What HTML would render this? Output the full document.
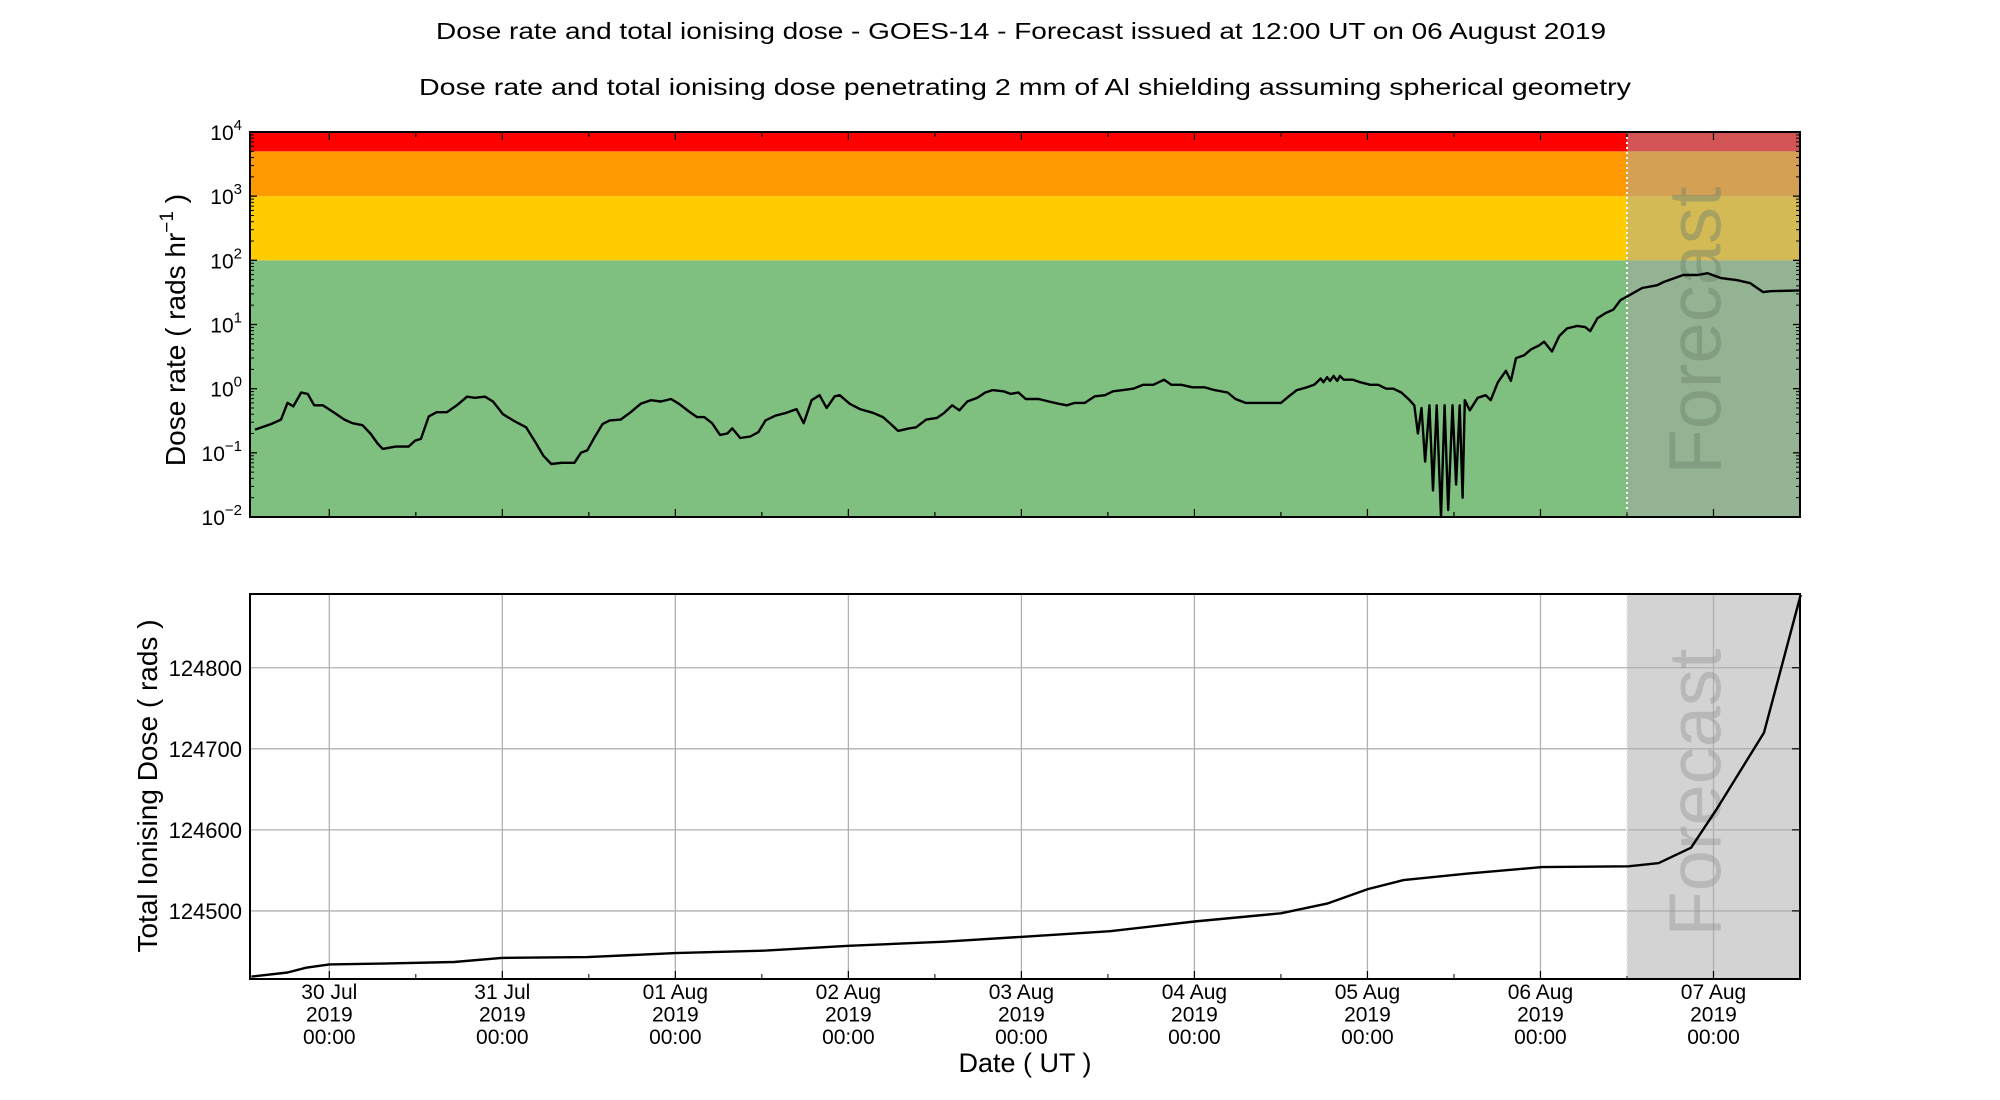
<!DOCTYPE html>
<html><head><meta charset="utf-8">
<style>
html,body{margin:0;padding:0;background:#fff;}
svg{display:block;font-family:"Liberation Sans","DejaVu Sans",sans-serif;}
</style></head>
<body>
<svg id="chart" xmlns="http://www.w3.org/2000/svg" width="2000" height="1100" viewBox="0 0 2000 1100">
<rect x="0" y="0" width="2000" height="1100" fill="#fff"/>
<text x="1021" y="39" font-size="23" text-anchor="middle" textLength="1170" lengthAdjust="spacingAndGlyphs">Dose rate and total ionising dose - GOES-14 - Forecast issued at 12:00 UT on 06 August 2019</text>
<text x="1025" y="95" font-size="23" text-anchor="middle" textLength="1212" lengthAdjust="spacingAndGlyphs">Dose rate and total ionising dose penetrating 2 mm of Al shielding assuming spherical geometry</text>
<g id="topPanel"></g>
<g id="botPanel"></g>
<text transform="translate(185,330) rotate(-90)" font-size="28" text-anchor="middle">Dose rate ( rads hr<tspan dy="-12" font-size="19">−1</tspan><tspan dy="12"> )</tspan></text>
<text transform="translate(157,786) rotate(-90)" font-size="28" text-anchor="middle">Total Ionising Dose ( rads )</text>
<text x="1025" y="1072" font-size="27" text-anchor="middle">Date ( UT )</text>
</svg>
<script>
// hours relative to 30 Jul 2019 00:00 UT
const rateHours = [-10.3,-8.1,-6.7,-5.8,-5.0,-3.9,-3.0,-2.1,-0.9,0.7,2.1,3.2,4.6,5.7,6.7,7.4,9.2,11.0,11.9,12.7,13.8,14.9,16.3,17.7,19.1,20.2,21.6,22.7,24.1,25.5,27.3,28.7,29.7,30.8,32.2,34.0,34.9,35.8,36.8,37.9,38.9,40.4,41.8,43.2,44.6,46.0,47.4,48.5,49.9,51.0,52.0,53.1,54.2,55.2,55.9,57.0,58.4,59.5,60.5,61.9,63.4,64.8,65.8,66.9,68.0,69.0,70.1,70.8,72.2,73.6,75.4,76.8,77.9,78.9,80.4,81.4,82.8,84.3,85.3,86.4,87.4,88.5,89.9,91.0,92.0,93.5,94.5,95.6,96.6,98.4,99.8,101.2,102.3,103.4,104.8,106.2,107.6,108.7,110.1,111.5,112.9,114.3,115.8,116.8,118.2,119.7,121.4,122.8,124.6,125.7,127.1,128.9,130.6,132.0,133.1,134.2,135.6,136.6,137.0,137.5,137.9,138.4,138.8,139.3,139.8,140.2,140.7,142.0,143.0,144.4,145.5,146.6,147.6,148.7,149.7,150.5,151.0,151.5,152.0,152.6,153.1,153.6,154.2,154.7,155.2,155.8,156.3,156.8,157.2,157.5,158.2,159.3,160.4,161.1,162.1,163.2,163.9,164.6,165.7,166.7,167.8,168.5,169.6,170.6,171.7,173.1,174.2,174.9,175.9,177.0,178.1,179.1,180.2,182.1,184.2,185.1,187.8,189.8,191.2,193.0,195.3,197.1,198.9,199.9,204.1];
const rateValues = [0.23,0.28,0.33,0.60,0.53,0.87,0.83,0.55,0.55,0.42,0.33,0.29,0.27,0.20,0.14,0.115,0.125,0.125,0.155,0.165,0.37,0.43,0.43,0.55,0.75,0.72,0.75,0.63,0.40,0.32,0.25,0.14,0.09,0.067,0.07,0.07,0.10,0.11,0.175,0.28,0.32,0.33,0.43,0.58,0.66,0.63,0.69,0.58,0.44,0.36,0.36,0.29,0.19,0.20,0.24,0.17,0.18,0.21,0.32,0.38,0.42,0.48,0.29,0.66,0.79,0.50,0.76,0.79,0.58,0.48,0.42,0.36,0.28,0.22,0.24,0.25,0.33,0.35,0.42,0.55,0.46,0.63,0.72,0.87,0.95,0.91,0.83,0.87,0.69,0.69,0.63,0.58,0.55,0.60,0.60,0.76,0.79,0.91,0.95,1.0,1.15,1.15,1.38,1.15,1.15,1.05,1.05,0.95,0.87,0.69,0.60,0.60,0.60,0.60,0.76,0.95,1.05,1.15,1.26,1.44,1.26,1.51,1.32,1.58,1.32,1.58,1.38,1.38,1.26,1.15,1.15,1.0,1.0,0.87,0.69,0.55,0.20,0.50,0.073,0.55,0.026,0.55,0.010,0.55,0.0128,0.55,0.032,0.55,0.020,0.66,0.46,0.72,0.79,0.66,1.26,1.9,1.32,3.0,3.3,4.1,4.7,5.4,3.8,6.6,8.7,9.5,9.1,7.9,12.5,15,17,24,28,37,41,46,59,59,63,53,49,44,32,33,34];
const doseHours = [-10.8,-5.8,-3.2,0,7.4,17.3,23.9,35.8,48.0,60.5,72.0,85.3,95.9,108.3,120.0,132.0,138.4,144.1,149.0,157.9,168.2,180.2,184.4,188.9,192.4,199.0,204.1];
const doseValues = [124419,124424,124430,124434,124435,124437,124442,124443,124448,124451,124457,124462,124468,124475,124487,124497,124509,124527,124538,124546,124554,124555,124559,124578,124625,124720,124890];
const dayLabels = ["30 Jul","31 Jul","01 Aug","02 Aug","03 Aug","04 Aug","05 Aug","06 Aug","07 Aug"];
const logTicks = [-2,-1,0,1,2,3,4];
const doseTicks = [124500,124600,124700,124800];
const bandEdges = [0.01,100,1000,5000,10000];
const bandColors = ["#7fbf7f","#ffcc00","#ff9900","#ff0000"];
const forecastHour = 180;

const NS="http://www.w3.org/2000/svg";
const L=250,R=1800,T1=132,B1=517,T2=594,B2=979;
const xMin=-11,xMax=204;
const xs=h=>L+(h-xMin)/(xMax-xMin)*(R-L);
const ly=v=>B1-(Math.log10(v)+2)/6*(B1-T1);
const dMin=124416,dMax=124891;
const dy=v=>B2-(v-dMin)/(dMax-dMin)*(B2-T2);
function mk(p,tag,at){const e=document.createElementNS(NS,tag);for(const k in at)e.setAttribute(k,at[k]);p.appendChild(e);return e;}
const topG=document.getElementById('topPanel'),botG=document.getElementById('botPanel');

for(let i=0;i<bandColors.length;i++){
  const e=mk(topG,'rect',{x:L,y:ly(bandEdges[i+1]),width:R-L,height:ly(bandEdges[i])-ly(bandEdges[i+1]),fill:bandColors[i]});
  
  
}
const fx=xs(forecastHour);
let sh=mk(topG,'rect',{x:fx,y:T1,width:R-fx,height:B1-T1,fill:'rgba(168,168,168,0.5)'});


let fl=mk(topG,'line',{x1:fx,y1:T1,x2:fx,y2:B1,stroke:'#fff','stroke-width':2,'stroke-dasharray':'2,3'});


let ft=mk(topG,'text',{transform:`translate(${(fx+R)/2+7},${(T1+B1)/2+6}) rotate(-90)`,'font-size':74,'text-anchor':'middle',fill:'rgba(110,130,110,0.45)'});
ft.textContent='Forecast';


let pts=rateHours.map((h,i)=>xs(h).toFixed(1)+','+ly(rateValues[i]).toFixed(1)).join(' ');
let rl=mk(topG,'polyline',{points:pts,fill:'none',stroke:'#000','stroke-width':2.4,'stroke-linejoin':'round'});


logTicks.forEach(t=>{
  const y=ly(Math.pow(10,t));
  mk(topG,'line',{x1:L,y1:y,x2:L+7,y2:y,stroke:'#000','stroke-width':1.3});
  mk(topG,'line',{x1:R,y1:y,x2:R-7,y2:y,stroke:'#000','stroke-width':1.3});
  const tx=mk(topG,'text',{x:L-8,y:y+8,'font-size':21,'text-anchor':'end'});
  tx.textContent='10';
  const sp=mk(tx,'tspan',{dy:-10,'font-size':15});sp.textContent=String(t).replace('-','−');
  
  
  if(t<4)for(let m=2;m<10;m++){const yy=ly(m*Math.pow(10,t));
    mk(topG,'line',{x1:L,y1:yy,x2:L+4,y2:yy,stroke:'#000','stroke-width':1});
    mk(topG,'line',{x1:R,y1:yy,x2:R-4,y2:yy,stroke:'#000','stroke-width':1});}
});
for(let h=-12;h<=204;h+=12){if(h<xMin)continue;const x=xs(h);const len=h%24===0?8:5;
  mk(topG,'line',{x1:x,y1:B1,x2:x,y2:B1-len,stroke:'#000','stroke-width':1.2});
  mk(topG,'line',{x1:x,y1:T1,x2:x,y2:T1+len,stroke:'#000','stroke-width':1.2});}
mk(topG,'rect',{x:L,y:T1,width:R-L,height:B1-T1,fill:'none',stroke:'#000','stroke-width':2});

let sh2=mk(botG,'rect',{x:fx,y:T2,width:R-fx,height:B2-T2,fill:'rgba(168,168,168,0.5)'});


doseTicks.forEach(v=>{const y=dy(v);
  mk(botG,'line',{x1:L,y1:y,x2:R,y2:y,stroke:'#b0b0b0','stroke-width':1.3});
  mk(botG,'line',{x1:R,y1:y,x2:R-8,y2:y,stroke:'#000','stroke-width':1.2});
  const t=mk(botG,'text',{x:L-8,y:y+8,'font-size':22,'text-anchor':'end'});t.textContent=v;
  
  });
dayLabels.forEach((d,i)=>{const x=xs(i*24);
  mk(botG,'line',{x1:x,y1:T2,x2:x,y2:B2,stroke:'#b0b0b0','stroke-width':1.3});
  mk(botG,'line',{x1:x,y1:B2,x2:x,y2:B2-8,stroke:'#000','stroke-width':1.2});
  const t=mk(botG,'text',{x:x,y:999,'font-size':21,'text-anchor':'middle'});
  
  
  [d,'2019','00:00'].forEach((s,k)=>{const sp=mk(t,'tspan',{x:x,y:999+k*22.5});sp.textContent=s;});
});
for(let h=-12;h<=204;h+=24){if(h<xMin)continue;const x=xs(h);mk(botG,'line',{x1:x,y1:B2,x2:x,y2:B2-5,stroke:'#000','stroke-width':1});}
let fl2=mk(botG,'line',{x1:fx,y1:T2,x2:fx,y2:B2,stroke:'#e8e8e8','stroke-width':2,'stroke-dasharray':'2,3'});


let ft2=mk(botG,'text',{transform:`translate(${(fx+R)/2+7},${(T2+B2)/2+6}) rotate(-90)`,'font-size':74,'text-anchor':'middle',fill:'rgba(150,150,150,0.45)'});
ft2.textContent='Forecast';


let p2=doseHours.map((h,i)=>xs(h).toFixed(1)+','+dy(doseValues[i]).toFixed(1)).join(' ');
let dl=mk(botG,'polyline',{points:p2,fill:'none',stroke:'#000','stroke-width':2.4,'stroke-linejoin':'round'});


mk(botG,'rect',{x:L,y:T2,width:R-L,height:B2-T2,fill:'none',stroke:'#000','stroke-width':2});
</script>
</body></html>
